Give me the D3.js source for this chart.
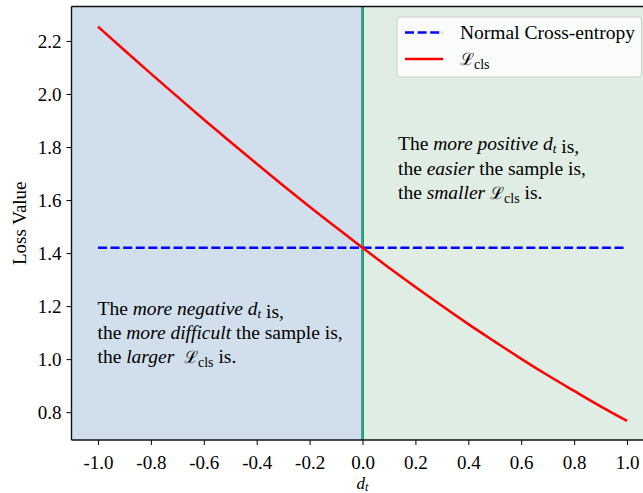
<!DOCTYPE html>
<html>
<head>
<meta charset="utf-8">
<script src="https://cdn.jsdelivr.net/npm/d3@7"></script>
<style>
  html, body { margin: 0; padding: 0; background: #ffffff; }
  svg { display: block; }
  text { font-family: "Liberation Serif", "DejaVu Serif", serif; fill: #000; }
</style>
</head>
<body>
<div id="chart"></div>
<script>
// ---------- data ----------
const dValues   = [-1.0, -0.9, -0.8, -0.7, -0.6, -0.5, -0.4, -0.3, -0.2, -0.1, 0.0,
                    0.1, 0.2, 0.3, 0.4, 0.5, 0.6, 0.7, 0.8, 0.9, 1.0];
const lossValues = [2.254, 2.165, 2.077, 1.990, 1.904, 1.820, 1.737, 1.655, 1.575, 1.497, 1.420,
                    1.345, 1.272, 1.201, 1.132, 1.066, 1.001, 0.939, 0.880, 0.822, 0.767];
const ceX = [-1.0, 1.0];
const ceY = [1.42, 1.42];
const xTicks = [-1.0, -0.8, -0.6, -0.4, -0.2, 0.0, 0.2, 0.4, 0.6, 0.8, 1.0];
const xTickLabels = ["-1.0", "-0.8", "-0.6", "-0.4", "-0.2", "0.0", "0.2", "0.4", "0.6", "0.8", "1.0"];
const yTicks = [0.8, 1.0, 1.2, 1.4, 1.6, 1.8, 2.0, 2.2];
const yTickLabels = ["0.8", "1.0", "1.2", "1.4", "1.6", "1.8", "2.0", "2.2"];
const legendLabels = ["Normal Cross-entropy", "cls"];

// ---------- layout ----------
const W = 643, H = 493;
const FS = 19.5;
const svg = d3.select("#chart").append("svg").attr("width", W).attr("height", H);

const x = d3.scaleLinear().domain([-1.1, 1.1]).range([71.5, 653.5]);
const y = d3.scaleLinear().domain([0.695, 2.33]).range([440, 6.5]);

const plotL = x(-1.1), plotR = x(1.1), plotT = y(2.33), plotB = y(0.695);

// background spans
svg.append("rect").attr("x", plotL).attr("y", plotT)
  .attr("width", x(0) - plotL).attr("height", plotB - plotT).attr("fill", "#d1dfec");
svg.append("rect").attr("x", x(0)).attr("y", plotT)
  .attr("width", plotR - x(0)).attr("height", plotB - plotT).attr("fill", "#e0ede4");

// vertical line at 0
svg.append("line").attr("x1", x(0) - 1).attr("x2", x(0) - 1).attr("y1", plotT).attr("y2", plotB)
  .attr("stroke", "#3c8ee0").attr("stroke-width", 1);
svg.append("line").attr("x1", x(0) + 0.6).attr("x2", x(0) + 0.6).attr("y1", plotT).attr("y2", plotB)
  .attr("stroke", "#10a050").attr("stroke-width", 1.8);

// dashed CE line
svg.append("path")
  .attr("d", d3.line().x((d, i) => x(ceX[i])).y((d, i) => y(ceY[i]))(ceX))
  .attr("fill", "none").attr("stroke", "#0000ff").attr("stroke-width", 2.5)
  .attr("stroke-dasharray", "9,3.6");

// loss curve
svg.append("path")
  .attr("d", d3.line().curve(d3.curveMonotoneX).x((d, i) => x(dValues[i])).y((d, i) => y(lossValues[i]))(dValues))
  .attr("fill", "none").attr("stroke", "#ff0000").attr("stroke-width", 2.5);

// axes
const xAxis = d3.axisBottom(x).tickValues(xTicks).tickSize(5).tickPadding(13)
  .tickFormat((d, i) => xTickLabels[i]);
const gx = svg.append("g").attr("transform", `translate(0,${plotB})`).call(xAxis);
gx.select(".domain").remove();
gx.selectAll(".tick line").attr("stroke", "#000").attr("stroke-width", 1);
gx.selectAll(".tick text").attr("font-size", 19).attr("dy", "0.6em")
  .style("font-family", '"Liberation Serif", serif');

const yAxis = d3.axisLeft(y).tickValues(yTicks).tickSize(5).tickPadding(5)
  .tickFormat((d, i) => yTickLabels[i]);
const gy = svg.append("g").attr("transform", `translate(${plotL},0)`).call(yAxis);
gy.select(".domain").remove();
gy.selectAll(".tick line").attr("stroke", "#000").attr("stroke-width", 1);
gy.selectAll(".tick text").attr("font-size", 19)
  .style("font-family", '"Liberation Serif", serif');

// spines
svg.append("line").attr("x1", plotL).attr("x2", plotL).attr("y1", plotT).attr("y2", plotB)
  .attr("stroke", "#111").attr("stroke-width", 1.4);
svg.append("line").attr("x1", plotL).attr("x2", W).attr("y1", plotB).attr("y2", plotB)
  .attr("stroke", "#111").attr("stroke-width", 1.4);
svg.append("line").attr("x1", plotL).attr("x2", W).attr("y1", plotT).attr("y2", plotT)
  .attr("stroke", "#111").attr("stroke-width", 1.4);

// axis labels
svg.append("text").attr("transform", `translate(26,${(plotT + plotB) / 2}) rotate(-90)`)
  .attr("text-anchor", "middle").attr("font-size", 19).text("Loss Value");

const xl = svg.append("text").attr("x", x(0)).attr("y", 489).attr("text-anchor", "middle").attr("font-size", 17);
xl.append("tspan").attr("font-style", "italic").text("d");
xl.append("tspan").attr("font-style", "italic").attr("font-size", 12).attr("dy", 2).text("t");

// helper for L_cls
function addLcls(t) {
  t.append("tspan").style("font-family", '"DejaVu Serif", serif')
    .attr("font-size", 17).text("\u2112");
  t.append("tspan").attr("font-size", 14).attr("dy", 4).text("cls");
  t.append("tspan").attr("dy", -4).text("\u00a0");
}

// annotation texts
function annot(px, py, parts) {
  const t = svg.append("text").attr("x", px).attr("y", py).attr("font-size", FS);
  parts.forEach(p => {
    if (p.type === "L") { addLcls(t); }
    else if (p.type === "d") {
      t.append("tspan").attr("font-style", "italic").text("d");
      t.append("tspan").attr("font-style", "italic").attr("font-size", 13).attr("dy", 3).text("t");
      t.append("tspan").attr("dy", -3).text("");
    } else {
      t.append("tspan").attr("font-style", p.i ? "italic" : "normal").text(p.s);
    }
  });
}

annot(398, 150, [{s: "The "}, {s: "more positive ", i: true}, {type: "d"}, {s: " is,"}]);
annot(398, 174.5, [{s: "the "}, {s: "easier", i: true}, {s: " the sample is,"}]);
annot(398, 199, [{s: "the "}, {s: "smaller ", i: true}, {type: "L"}, {s: "is."}]);

annot(97.5, 315, [{s: "The "}, {s: "more negative ", i: true}, {type: "d"}, {s: " is,"}]);
annot(97.5, 339, [{s: "the "}, {s: "more difficult", i: true}, {s: " the sample is,"}]);
annot(97.5, 363, [{s: "the "}, {s: "larger ", i: true}, {s: "\u00a0"}, {type: "L"}, {s: "is."}]);

// legend
const lg = svg.append("g");
lg.append("rect").attr("x", 397).attr("y", 17).attr("width", 244.5).attr("height", 60)
  .attr("rx", 3).attr("fill", "#ffffff").attr("fill-opacity", 0.8)
  .attr("stroke", "#cccccc").attr("stroke-width", 1);
lg.append("line").attr("x1", 405).attr("x2", 443).attr("y1", 32.5).attr("y2", 32.5)
  .attr("stroke", "#0000ff").attr("stroke-width", 2.5).attr("stroke-dasharray", "9,3.6");
lg.append("line").attr("x1", 405).attr("x2", 443).attr("y1", 59).attr("y2", 59)
  .attr("stroke", "#ff0000").attr("stroke-width", 2.5);
lg.append("text").attr("x", 460).attr("y", 39).attr("font-size", FS).text(legendLabels[0]);
const lt = lg.append("text").attr("x", 460).attr("y", 65).attr("font-size", FS);
lt.append("tspan").style("font-family", '"DejaVu Serif", serif')
  .attr("font-size", 17).text("\u2112");
lt.append("tspan").attr("font-size", 14).attr("dy", 4).text(legendLabels[1]);
</script>
</body>
</html>
